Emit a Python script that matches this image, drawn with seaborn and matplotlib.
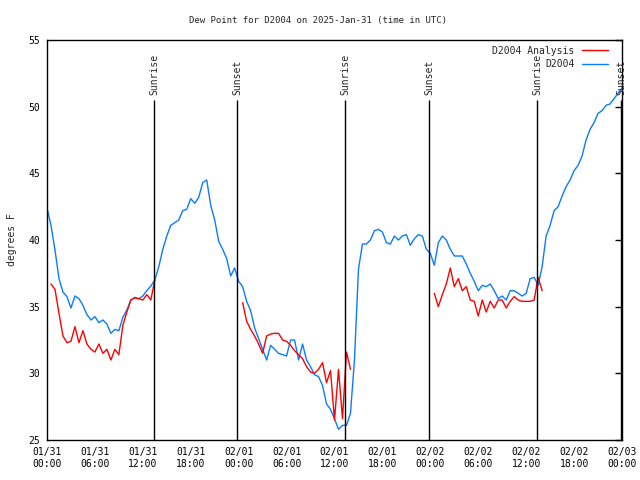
import numpy as np
import pandas as pd
import matplotlib
matplotlib.use("Agg")
import matplotlib.pyplot as plt
import matplotlib.dates as mdates
from matplotlib.lines import Line2D
import seaborn as sns

# half-hourly samples starting 2025-01-31 00:00 UTC
start = pd.Timestamp("2025-01-31 00:00")
times = pd.date_range(start, periods=145, freq="30min")

d2004 = [
    42.4, 41.1, 39.25, 37.1, 36.1, 35.75, 34.9, 35.8, 35.6, 35.1,
    34.4, 34.0, 34.25, 33.8, 34.0, 33.7, 33.0, 33.3, 33.2, 34.2,
    34.75, 35.5, 35.7, 35.6, 35.8, 36.2, 36.55, 37.0, 38.0, 39.3,
    40.3, 41.1, 41.3, 41.5, 42.2, 42.3, 43.1, 42.75, 43.2, 44.3,
    44.5, 42.6, 41.5, 39.9, 39.3, 38.6, 37.3, 37.9, 36.9, 36.5,
    35.4, 34.7, 33.4, 32.6, 31.8, 31.0, 32.1, 31.8, 31.5, 31.4,
    31.3, 32.5, 32.5, 31.0, 32.2, 31.0, 30.5, 29.9, 29.75, 29.1,
    27.7, 27.3, 26.6, 25.8, 26.1, 26.1, 27.0, 31.0, 37.8, 39.7,
    39.7, 40.0, 40.7, 40.8, 40.6, 39.8, 39.7, 40.3, 40.0, 40.3,
    40.4, 39.6, 40.1, 40.4, 40.3, 39.3, 39.0, 38.1, 39.8, 40.3,
    40.0, 39.3, 38.8, 38.8, 38.8, 38.2, 37.5, 36.9, 36.2, 36.6,
    36.5, 36.7, 36.2, 35.6, 35.8, 35.5, 36.2, 36.2, 36.0, 35.8,
    36.0, 37.1, 37.2, 36.6, 38.0, 40.3, 41.1, 42.2, 42.5, 43.3,
    44.0, 44.5, 45.2, 45.6, 46.3, 47.5, 48.3, 48.8, 49.5, 49.7,
    50.1, 50.2, 50.6, 51.0, 51.4,
]

nan = np.nan
analysis_day1 = [
    36.7, 36.3, 34.5, 32.8, 32.3, 32.4, 33.5, 32.3, 33.2, 32.2,
    31.8, 31.6, 32.2, 31.5, 31.8, 31.0, 31.8, 31.4, 33.6, 34.6,
    35.5, 35.65, 35.6, 35.5, 35.9, 35.5, 37.0,
]
analysis_day2 = [
    35.3, 33.9, 33.3, 32.8, 32.2, 31.5, 32.8, 32.95, 33.0, 33.0,
    32.5, 32.4, 32.1, 31.7, 31.4, 31.1, 30.5, 30.1, 30.0, 30.3,
    30.8, 29.3, 30.2, 26.5, 30.3, 26.6, 31.6, 30.3,
]
analysis_day3 = [
    36.0, 35.0, 35.9, 36.7, 37.9, 36.5, 37.1, 36.2, 36.5, 35.5,
    35.4, 34.3, 35.5, 34.6, 35.4, 34.9, 35.5, 35.5, 34.9, 35.4,
    35.75, 35.5, 35.4, 35.4, 35.4, 35.5, 37.2, 36.2,
]
analysis = ([nan] + analysis_day1 + [nan] * 21 + analysis_day2 + [nan] * 20
            + analysis_day3 + [nan] * 20)

sunrise = ["2025-01-31 13:24", "2025-02-01 13:20", "2025-02-02 13:22"]
sunset = ["2025-01-31 23:48", "2025-02-01 23:50", "2025-02-02 23:56"]

df = pd.DataFrame({"time": times, "d2004": d2004, "analysis": analysis})
df["seg"] = df["analysis"].isna().cumsum()
red_df = df.dropna(subset=["analysis"])

sns.set_style("white")
plt.rcParams["font.family"] = ["DejaVu Sans Mono"]

fig = plt.figure(figsize=(6.4, 4.8), dpi=100)
ax = fig.add_axes([47 / 640, 40 / 480, 575 / 640, 400 / 480])

blue = "#0a7cff"
red = "#ff0000"
lw = 1.0

sns.lineplot(data=df, x="time", y="d2004", ax=ax, color=blue, lw=lw)
sns.lineplot(data=red_df, x="time", y="analysis", units="seg", estimator=None,
             ax=ax, color=red, lw=lw)

# sun events
for name, stamps in [("Sunrise", sunrise), ("Sunset", sunset)]:
    for s in stamps:
        t = pd.Timestamp(s)
        ax.vlines(t, 25, 50.5, color="black", lw=1.0, zorder=3)
        ax.text(t, 50.9, name, rotation=90, ha="center", va="bottom",
                fontsize=7, clip_on=False)

ax.set_xlim(start, start + pd.Timedelta(hours=72))
ax.set_ylim(25, 55)
ax.set_yticks(range(25, 56, 5))
ax.xaxis.set_major_locator(mdates.HourLocator(byhour=[0, 6, 12, 18]))
ax.xaxis.set_minor_locator(mdates.HourLocator(byhour=range(0, 24, 3)))
ax.xaxis.set_major_formatter(mdates.DateFormatter("%m/%d\n%H:%M"))

ax.tick_params(axis="both", which="major", direction="in", length=5,
               width=1, labelsize=7, colors="black", pad=5)
ax.tick_params(axis="x", which="minor", direction="in", length=3, width=1)
ax.tick_params(axis="y", right=True)
for sp in ax.spines.values():
    sp.set_visible(True)
    sp.set_color("black")
    sp.set_linewidth(1.0)

ax.set_xlabel("")
ax.set_ylabel("")
fig.text(12 / 640, 0.5, "degrees F", rotation=90, ha="center", va="center",
         fontsize=7)
fig.text(318 / 640, 1 - 20 / 480,
         "Dew Point for D2004 on 2025-Jan-31 (time in UTC)",
         ha="center", va="center", fontsize=6.5)

handles = [Line2D([], [], color=red, lw=lw), Line2D([], [], color=blue, lw=lw)]
ax.legend(handles, ["D2004 Analysis", "D2004"], loc="upper right",
          bbox_to_anchor=(0.985, 1.0), frameon=False, markerfirst=False,
          fontsize=7, handlelength=2.6, handletextpad=0.8, labelspacing=0.35,
          borderaxespad=0.2)

fig.savefig("out.png", dpi=100)
